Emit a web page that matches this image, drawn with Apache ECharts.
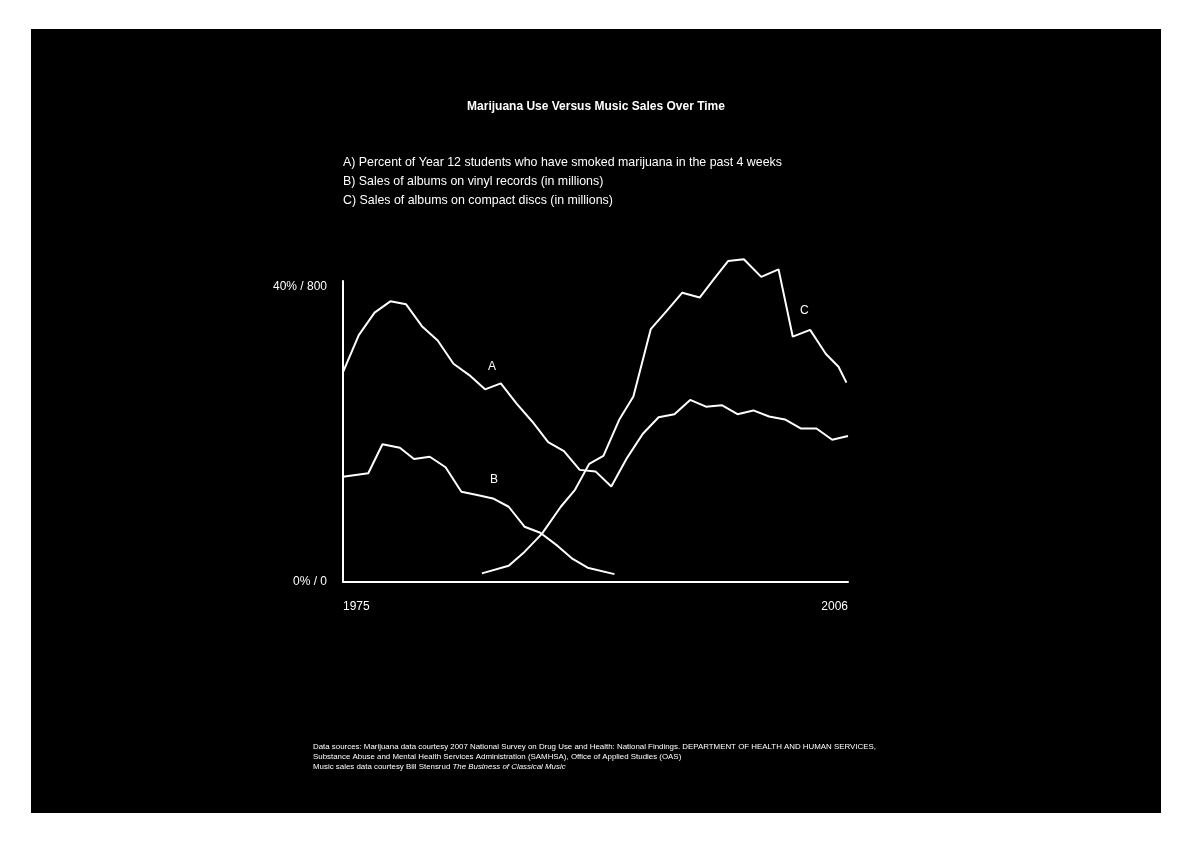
<!DOCTYPE html>
<html>
<head>
    <meta charset="UTF-8">
    <style>
        html, body { margin: 0; padding: 0; background: #fff; }
        #frame { position: absolute; left: 31px; top: 29px; width: 1130px; height: 784px; background: #000; }
        #container { width: 100%; height: 100%; }
    </style>
</head>
<body>
<div id="frame"><div id="container"></div></div>

<script src="https://cdn.jsdelivr.net/npm/echarts@6.0.0/dist/echarts.min.js"></script>
<script type="text/javascript">
    // A) marijuana use, percent (one point per year)
    var marijuanaYears = [1975, 1976, 1977, 1978, 1979, 1980, 1981, 1982, 1983, 1984, 1985,
        1986, 1987, 1988, 1989, 1990, 1991, 1992, 1993, 1994, 1995, 1996, 1997, 1998, 1999,
        2000, 2001, 2002, 2003, 2004, 2005, 2006, 2007];
    var marijuanaPct = [27.9, 32.8, 35.8, 37.3, 36.9, 34.0, 32.1, 29.0, 27.5, 25.6, 26.4,
        23.7, 21.3, 18.6, 17.4, 14.9, 14.7, 12.7, 16.5, 19.7, 21.9, 22.3, 24.2, 23.3, 23.5,
        22.3, 22.8, 22.0, 21.6, 20.4, 20.4, 18.9, 19.4];

    // B) vinyl album sales, millions
    var vinylYears = [1975, 1976.6, 1977.5, 1978.6, 1979.5, 1980.5, 1981.5, 1982.5, 1983.5,
        1984.5, 1985.5, 1986.5, 1987.5, 1988.6, 1989.5, 1990.5, 1992.2];
    var vinylSales = [280, 289, 366, 357, 327, 333, 305, 240, 231, 222, 200, 147, 131, 96, 63, 38, 21];

    // C) compact disc album sales, millions
    var cdYears = [1983.8, 1985.5, 1986.5, 1987.6, 1988.8, 1989.7, 1990.6, 1991.5, 1992.5,
        1993.4, 1994.5, 1995.5, 1996.5, 1997.6, 1998.5, 1999.4, 2000.4, 2001.5, 2002.6,
        2003.5, 2004.6, 2005.6, 2006.4, 2006.9];
    var cdSales = [23, 43, 80, 128, 200, 245, 314, 335, 431, 493, 672, 720, 769, 756, 805,
        853, 858, 811, 831, 652, 670, 606, 572, 530];

    var xMin = 1975, xMax = 2007;
    var xTickLabels = ['1975', '2006'];
    var yTickLabels = ['0% / 0', '40% / 800'];

    var legendLines = [
        'A) Percent of Year 12 students who have smoked marijuana in the past 4 weeks',
        'B) Sales of albums on vinyl records (in millions)',
        'C) Sales of albums on compact discs (in millions)'
    ];
    var sourceLines = [
        'Data sources: Marijuana data courtesy 2007 National Survey on Drug Use and Health: National Findings. DEPARTMENT OF HEALTH AND HUMAN SERVICES,',
        'Substance Abuse and Mental Health Services Administration (SAMHSA), Office of Applied Studies (OAS)',
        'Music sales data courtesy Bill Stensrud {i|The Business of Classical Music}'
    ];

    function zip(xs, ys) {
        return xs.map(function (x, i) { return [x, ys[i]]; });
    }

    var font = '"Liberation Sans", Arial, Helvetica, sans-serif';
    var dom = document.getElementById('container');
    var myChart = echarts.init(dom, null, { renderer: 'canvas' });

    var lineStyle = { color: '#fff', width: 2 };

    var option = {
        backgroundColor: '#000',
        animation: false,
        textStyle: { fontFamily: font, color: '#fff' },
        title: {
            text: 'Marijuana Use Versus Music Sales Over Time',
            left: 'center',
            top: 67,
            textStyle: { color: '#fff', fontSize: 12, fontWeight: 'bold', fontFamily: font }
        },
        grid: { left: 312, right: 313, top: 252, bottom: 231 },
        xAxis: {
            type: 'value',
            min: xMin,
            max: xMax,
            axisLine: { lineStyle: { color: '#fff', width: 2 } },
            axisTick: { show: false },
            splitLine: { show: false },
            axisLabel: {
                color: '#fff',
                fontSize: 12,
                fontFamily: font,
                margin: 19,
                showMinLabel: true,
                showMaxLabel: true,
                alignMinLabel: 'left',
                alignMaxLabel: 'right',
                formatter: function (v) {
                    if (v === xMin) return xTickLabels[0];
                    if (v === xMax) return xTickLabels[1];
                    return '';
                }
            }
        },
        yAxis: [
            {
                type: 'value',
                min: 0,
                max: 40,
                interval: 40,
                axisLine: { show: true, lineStyle: { color: '#fff', width: 2 } },
                axisTick: { show: false },
                splitLine: { show: false },
                axisLabel: {
                    color: '#fff',
                    fontSize: 12,
                    fontFamily: font,
                    margin: 16,
                    verticalAlignMaxLabel: 'top',
                    formatter: function (v, i) { return yTickLabels[i]; }
                }
            },
            {
                type: 'value',
                min: 0,
                max: 800,
                interval: 800,
                show: false
            }
        ],
        series: [
            { name: 'A', type: 'line', yAxisIndex: 0, data: zip(marijuanaYears, marijuanaPct),
                showSymbol: false, clip: false, lineStyle: lineStyle },
            { name: 'B', type: 'line', yAxisIndex: 1, data: zip(vinylYears, vinylSales),
                showSymbol: false, clip: false, lineStyle: lineStyle },
            { name: 'C', type: 'line', yAxisIndex: 1, data: zip(cdYears, cdSales),
                showSymbol: false, clip: false, lineStyle: lineStyle }
        ],
        graphic: [
            {
                type: 'text', left: 312, top: 124,
                style: { text: legendLines.join('\n'), fill: '#fff', font: '12.4px ' + font, lineHeight: 19 }
            },
            { type: 'text', left: 457, top: 332, style: { text: 'A', fill: '#fff', font: '12px ' + font } },
            { type: 'text', left: 459, top: 445, style: { text: 'B', fill: '#fff', font: '12px ' + font } },
            { type: 'text', left: 769, top: 276, style: { text: 'C', fill: '#fff', font: '12px ' + font } },
            {
                type: 'text', left: 282, top: 713,
                style: {
                    text: sourceLines.join('\n'),
                    fill: '#fff',
                    font: '7.9px ' + font,
                    lineHeight: 10,
                    rich: {
                        i: { fill: '#fff', fontSize: 7.9, fontStyle: 'italic', fontFamily: font, lineHeight: 10 }
                    }
                }
            }
        ]
    };

    myChart.setOption(option);
    window.addEventListener('resize', myChart.resize);
</script>
</body>
</html>
